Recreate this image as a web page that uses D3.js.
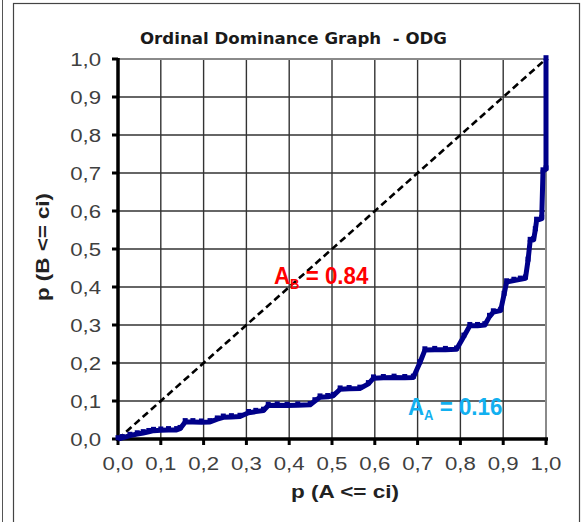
<!DOCTYPE html>
<html>
<head>
<meta charset="utf-8">
<script src="https://cdn.jsdelivr.net/npm/d3@7"></script>
<style>
  html, body { margin: 0; padding: 0; background: #fff; }
  svg { display: block; }
</style>
</head>
<body>
<div id="chart"></div>
<script>
// Cumulative proportions of A (x) and B (y) at each cut-off ci
const pA = [0, 0.01, 0.028, 0.045, 0.059, 0.072, 0.083, 0.1, 0.118, 0.137, 0.145, 0.157, 0.175, 0.195, 0.215,
  0.232, 0.246, 0.265, 0.285, 0.305, 0.322, 0.34, 0.351, 0.372, 0.395, 0.42, 0.449, 0.46, 0.472, 0.49, 0.503,
  0.519, 0.54, 0.565, 0.585, 0.597, 0.62, 0.645, 0.67, 0.69, 0.705, 0.717, 0.74, 0.765, 0.791, 0.808, 0.822,
  0.84, 0.857, 0.868, 0.877, 0.894, 0.902, 0.908, 0.925, 0.94, 0.952, 0.958, 0.963, 0.971, 0.975, 0.978,
  0.99, 0.993, 1.0, 1.0];
const pB = [0, 0.003, 0.009, 0.013, 0.016, 0.019, 0.022, 0.023, 0.024, 0.024, 0.027, 0.045, 0.045, 0.044, 0.045,
  0.052, 0.057, 0.058, 0.059, 0.069, 0.072, 0.075, 0.088, 0.089, 0.088, 0.089, 0.09, 0.1, 0.11, 0.111, 0.114,
  0.131, 0.132, 0.133, 0.145, 0.16, 0.161, 0.162, 0.161, 0.162, 0.2, 0.234, 0.235, 0.235, 0.236, 0.27, 0.298,
  0.298, 0.3, 0.322, 0.334, 0.338, 0.38, 0.413, 0.417, 0.42, 0.423, 0.47, 0.522, 0.524, 0.55, 0.575,
  0.58, 0.705, 0.71, 1.0];

// Reference diagonal (chance line)
const diagonal = [[0, 0], [1, 1]];

// Axis ticks and their labels (decimal comma)
const tickValues = [0, 0.1, 0.2, 0.3, 0.4, 0.5, 0.6, 0.7, 0.8, 0.9, 1.0];
const tickLabels = ["0,0", "0,1", "0,2", "0,3", "0,4", "0,5", "0,6", "0,7", "0,8", "0,9", "1,0"];

// Areas stated on the chart
const areaB = 0.84;
const areaA = 0.16;

const W = 584, H = 522;
const svg = d3.select("#chart").append("svg").attr("width", W).attr("height", H);

svg.append("rect").attr("width", W).attr("height", H).attr("fill", "#fff");

// Outer frames
svg.append("line").attr("x1", 2.5).attr("x2", 2.5).attr("y1", 0).attr("y2", H)
  .attr("stroke", "#555").attr("stroke-width", 1);
svg.append("rect").attr("x", 13.5).attr("y", 3.5).attr("width", 566).attr("height", H + 10)
  .attr("fill", "none").attr("stroke", "#444").attr("stroke-width", 1.2);

const x = d3.scaleLinear().domain([0, 1]).range([118, 546]);
const y = d3.scaleLinear().domain([0, 1]).range([439, 59]);

// Grid
const grid = svg.append("g");
tickValues.filter(v => v > 0 && v < 1).forEach(v => {
  grid.append("line").attr("x1", x(v)).attr("x2", x(v)).attr("y1", y(0)).attr("y2", y(1))
    .attr("stroke", "#333").attr("stroke-width", 1.4);
  grid.append("line").attr("x1", x(0)).attr("x2", x(1)).attr("y1", y(v)).attr("y2", y(v))
    .attr("stroke", "#333").attr("stroke-width", 1.4);
});
// Plot area border (top / right)
grid.append("path")
  .attr("d", `M${x(0)},${y(1)}H${x(1)}V${y(0)}`)
  .attr("fill", "none").attr("stroke", "#8a8a8a").attr("stroke-width", 2);

// Axes
const axisG = svg.append("g");
axisG.append("line").attr("x1", x(0)).attr("x2", x(0)).attr("y1", y(1) - 1).attr("y2", y(0) + 2)
  .attr("stroke", "#000").attr("stroke-width", 3.5);
axisG.append("line").attr("x1", x(0) - 2).attr("x2", x(1) + 2).attr("y1", y(0)).attr("y2", y(0))
  .attr("stroke", "#000").attr("stroke-width", 3.5);
tickValues.forEach(v => {
  axisG.append("line").attr("x1", x(0) - 6).attr("x2", x(0)).attr("y1", y(v)).attr("y2", y(v))
    .attr("stroke", "#000").attr("stroke-width", 3);
  axisG.append("line").attr("x1", x(v)).attr("x2", x(v)).attr("y1", y(0)).attr("y2", y(0) + 6)
    .attr("stroke", "#000").attr("stroke-width", 3);
});

const tickFont = "'Liberation Sans', Arial, sans-serif";
tickValues.forEach((v, i) => {
  svg.append("g").attr("transform", `translate(${101},${y(v) + 7}) scale(1.17,1)`)
    .append("text").attr("text-anchor", "end")
    .attr("font-family", tickFont).attr("font-size", 19).attr("fill", "#404040")
    .text(tickLabels[i]);
  svg.append("g").attr("transform", `translate(${x(v)},${470}) scale(1.17,1)`)
    .append("text").attr("text-anchor", "middle")
    .attr("font-family", tickFont).attr("font-size", 19).attr("fill", "#404040")
    .text(tickLabels[i]);
});

// Title and axis titles
svg.append("text").attr("x", 140).attr("y", 44)
  .attr("font-family", "'DejaVu Sans', Verdana, sans-serif").attr("font-weight", "bold").attr("font-size", 15)
  .attr("fill", "#1a1a1a").attr("textLength", 307).attr("lengthAdjust", "spacingAndGlyphs")
  .text("Ordinal Dominance Graph\u00a0\u00a0- ODG");

svg.append("text").attr("x", 291).attr("y", 498)
  .attr("font-family", tickFont).attr("font-weight", "bold").attr("font-size", 18)
  .attr("fill", "#222").attr("textLength", 108).attr("lengthAdjust", "spacingAndGlyphs")
  .text("p (A <= ci)");

svg.append("text").attr("transform", `translate(49,${301}) rotate(-90)`)
  .attr("font-family", tickFont).attr("font-weight", "bold").attr("font-size", 18)
  .attr("fill", "#222").attr("textLength", 108).attr("lengthAdjust", "spacingAndGlyphs")
  .text("p (B <= ci)");

// Diagonal
svg.append("path")
  .attr("d", d3.line().x(d => x(d[0])).y(d => y(d[1]))(diagonal))
  .attr("fill", "none").attr("stroke", "#000").attr("stroke-width", 2.6)
  .attr("stroke-dasharray", "7,4");

// ODG curve
const pts = pA.map((a, i) => [a, pB[i]]);
svg.append("path")
  .attr("d", d3.line().x(d => x(d[0])).y(d => y(d[1]))(pts))
  .attr("fill", "none").attr("stroke", "#00008a").attr("stroke-width", 5)
  .attr("stroke-linejoin", "round");
svg.append("g").selectAll("rect").data(pts).join("rect")
  .attr("x", d => x(d[0]) - 2.5).attr("y", d => y(d[1]) - 3.8)
  .attr("width", 5).attr("height", 5)
  .attr("fill", "#00008a");

// Area annotations (slightly condensed bold face)
function areaLabel(px, py, sub, value, color) {
  const t = svg.append("g").attr("transform", `translate(${px},${py}) scale(0.93,1)`)
    .append("text")
    .attr("font-family", tickFont).attr("font-weight", "bold").attr("font-size", 24)
    .attr("fill", color);
  t.append("tspan").text("A");
  t.append("tspan").attr("font-size", 14).attr("dy", 5).text(sub);
  t.append("tspan").attr("dy", -5).text(" = " + value.toFixed(2));
}
areaLabel(274, 284, "B", areaB, "#ff0000");
areaLabel(408, 415, "A", areaA, "#12b0f0");
</script>
</body>
</html>
